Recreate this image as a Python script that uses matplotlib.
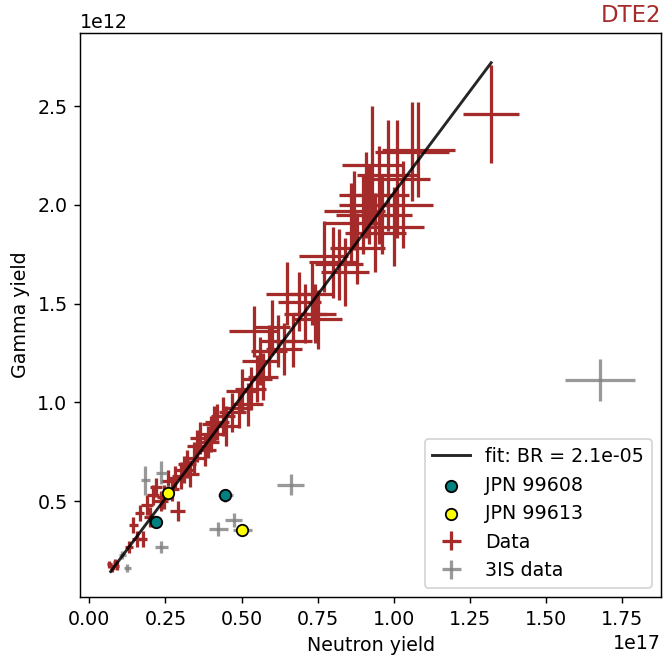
import numpy as np
import matplotlib
matplotlib.use("Agg")
import matplotlib.pyplot as plt

plt.rcParams["font.size"] = 10.5

# Data (neutron yield in 1e17, gamma yield in 1e12)
data_n = [0.065, 0.075, 0.085, 0.09, 0.13, 0.145, 0.155, 0.165, 0.175, 0.19,
          0.2, 0.21, 0.22, 0.235, 0.245, 0.26, 0.27, 0.28, 0.29, 0.3,
          0.31, 0.32, 0.33, 0.345, 0.355, 0.365, 0.38, 0.39, 0.4, 0.41,
          0.42, 0.44, 0.45, 0.47, 0.49, 0.5, 0.52, 0.53, 0.54, 0.55,
          0.56, 0.57, 0.59, 0.6, 0.62, 0.64, 0.65, 0.67, 0.69, 0.71,
          0.73, 0.74, 0.75, 0.77, 0.8, 0.82, 0.84, 0.86, 0.87, 0.88,
          0.9, 0.91, 0.92, 0.93, 0.94, 0.95, 0.96, 0.98, 1.0, 1.01,
          1.03, 1.06, 1.08, 1.32]
data_g = [0.18, 0.16, 0.19, 0.17, 0.27, 0.38, 0.31, 0.44, 0.31, 0.48,
          0.42, 0.53, 0.57, 0.50, 0.52, 0.60, 0.56, 0.62, 0.45, 0.63,
          0.66, 0.69, 0.64, 0.72, 0.78, 0.82, 0.76, 0.80, 0.84, 0.89,
          0.90, 0.93, 0.88, 0.95, 0.97, 1.06, 0.99, 1.07, 1.36, 1.12,
          1.21, 1.13, 1.26, 1.38, 1.31, 1.27, 1.55, 1.31, 1.51, 1.45,
          1.55, 1.45, 1.42, 1.74, 1.71, 1.70, 1.66, 1.91, 1.97, 1.78,
          1.95, 2.05, 2.00, 2.20, 1.86, 2.05, 1.95, 2.15, 1.89, 2.13,
          2.00, 2.27, 2.28, 2.46]
data_n_err = [0.008, 0.008, 0.008, 0.008, 0.012, 0.015, 0.015, 0.015, 0.015, 0.02,
              0.02, 0.02, 0.02, 0.022, 0.022, 0.025, 0.025, 0.025, 0.025, 0.03,
              0.03, 0.03, 0.03, 0.035, 0.035, 0.035, 0.035, 0.035, 0.04, 0.04,
              0.04, 0.04, 0.045, 0.045, 0.045, 0.05, 0.05, 0.05, 0.08, 0.05,
              0.06, 0.05, 0.06, 0.06, 0.06, 0.06, 0.07, 0.06, 0.07, 0.07,
              0.07, 0.07, 0.08, 0.08, 0.08, 0.08, 0.08, 0.09, 0.1, 0.09,
              0.09, 0.09, 0.1, 0.1, 0.1, 0.1, 0.1, 0.1, 0.1, 0.11,
              0.1, 0.12, 0.12, 0.092]
data_g_err = [0.02, 0.02, 0.02, 0.02, 0.03, 0.04, 0.04, 0.04, 0.04, 0.05,
              0.05, 0.05, 0.05, 0.05, 0.06, 0.06, 0.06, 0.06, 0.05, 0.07,
              0.07, 0.07, 0.07, 0.08, 0.08, 0.08, 0.08, 0.08, 0.09, 0.09,
              0.09, 0.1, 0.1, 0.1, 0.1, 0.11, 0.11, 0.11, 0.13, 0.12,
              0.12, 0.12, 0.13, 0.14, 0.13, 0.13, 0.16, 0.13, 0.15, 0.15,
              0.16, 0.15, 0.15, 0.18, 0.18, 0.18, 0.17, 0.2, 0.2, 0.18,
              0.2, 0.22, 0.2, 0.3, 0.2, 0.25, 0.2, 0.28, 0.2, 0.3,
              0.22, 0.25, 0.24, 0.25]

# 3IS data
is_n = [0.108, 0.125, 0.184, 0.22, 0.237, 0.237, 0.257, 0.424, 0.447, 0.474, 0.503, 0.661, 1.678]
is_g = [0.227, 0.16, 0.605, 0.393, 0.645, 0.267, 0.544, 0.358, 0.529, 0.403, 0.353, 0.584, 1.113]
is_n_err = [0.012, 0.012, 0.015, 0.02, 0.018, 0.02, 0.02, 0.03, 0.025, 0.028, 0.03, 0.045, 0.115]
is_g_err = [0.02, 0.02, 0.075, 0.03, 0.06, 0.03, 0.04, 0.035, 0.035, 0.035, 0.03, 0.055, 0.108]

# JPN pulses
jpn608_n = [0.22, 0.447]
jpn608_g = [0.393, 0.529]
jpn613_n = [0.257, 0.503]
jpn613_g = [0.544, 0.353]

BR = 2.06e-5

fig = plt.figure(figsize=(663 / 130, 659 / 130), dpi=130)
ax = fig.add_axes([0.121, 0.094, 0.876, 0.856])

ax.errorbar(np.array(data_n) * 1e17, np.array(data_g) * 1e12,
            xerr=np.array(data_n_err) * 1e17, yerr=np.array(data_g_err) * 1e12,
            fmt="none", ecolor="brown", elinewidth=1.8, label="Data")
ax.errorbar(np.array(is_n) * 1e17, np.array(is_g) * 1e12,
            xerr=np.array(is_n_err) * 1e17, yerr=np.array(is_g_err) * 1e12,
            fmt="none", ecolor="gray", alpha=0.8, elinewidth=1.8, label="3IS data")

xfit = np.array([0.07, max(data_n)]) * 1e17
ax.plot(xfit, BR * xfit, color="k", alpha=0.85, lw=1.6, label=f"fit: BR = {BR:.1e}")
ax.scatter(np.array(jpn608_n) * 1e17, np.array(jpn608_g) * 1e12, color="teal",
           edgecolor="k", s=40, zorder=3, label="JPN 99608")
ax.scatter(np.array(jpn613_n) * 1e17, np.array(jpn613_g) * 1e12, color="yellow",
           edgecolor="k", s=40, zorder=3, label="JPN 99613")

ax.set_xlim(-0.03e17, 1.878e17)
ax.set_ylim(0.015e12, 2.87e12)
ax.set_xlabel("Neutron yield")
ax.set_ylabel("Gamma yield")
ax.set_title("DTE2", loc="right", color="brown")
ax.legend(loc="lower right")

fig.savefig("out.png", dpi=130)
